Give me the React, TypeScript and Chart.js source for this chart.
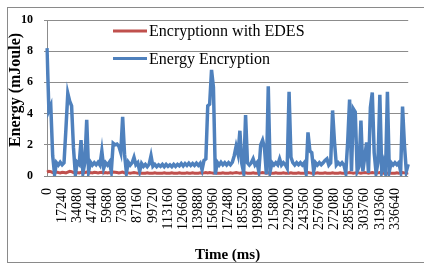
import React, { useEffect, useRef } from "react";
import { Chart, registerables } from "chart.js";

Chart.register(...registerables);

const seriesNames = ["Encryptionn with EDES", "Energy Encryption"];

const tickLabels = [
  "0", "17240", "34080", "47440", "59680", "73080", "87160", "99720",
  "113160", "126600", "139880", "156960", "172480", "185520", "199880", "215800",
  "229200", "243560", "257600", "272080", "285560", "303760", "319360", "336640",
];

const edesValues = [
  0.25, 0.3, 0.28, 0.22, 0.2, 0.25, 0.22, 0.2, 0.24, 0.22, 0.2, 0.25, 0.3, 0.28, 0.22, 0.2,
  0.22, 0.2, 0.24, 0.2, 0.22, 0.25, 0.2, 0.22, 0.2, 0.24, 0.22, 0.2, 0.22, 0.24, 0.2, 0.22,
  0.2, 0.22, 0.2, 0.25, 0.24, 0.22, 0.2, 0.22, 0.25, 0.2, 0.22, 0.2, 0.18, 0.2, 0.22, 0.2,
  0.18, 0.2, 0.18, 0.17, 0.18, 0.2, 0.18, 0.17, 0.18, 0.2, 0.18, 0.17, 0.18, 0.18, 0.2, 0.18,
  0.17, 0.18, 0.2, 0.18, 0.17, 0.18, 0.2, 0.18, 0.18, 0.17, 0.2, 0.18, 0.18, 0.2, 0.18, 0.17,
  0.18, 0.2, 0.18, 0.2, 0.22, 0.2, 0.22, 0.2, 0.18, 0.2, 0.18, 0.17, 0.18, 0.2, 0.18, 0.17,
  0.18, 0.2, 0.18, 0.2, 0.22, 0.2, 0.18, 0.2, 0.18, 0.2, 0.18, 0.17, 0.18, 0.2, 0.18, 0.17,
  0.18, 0.2, 0.22, 0.2, 0.18, 0.2, 0.18, 0.17, 0.18, 0.2, 0.18, 0.17, 0.18, 0.2, 0.18, 0.17,
  0.18, 0.2, 0.18, 0.17, 0.18, 0.2, 0.18, 0.17, 0.18, 0.2, 0.22, 0.2, 0.18, 0.17, 0.18, 0.2,
  0.18, 0.17, 0.18, 0.2, 0.18, 0.17, 0.18, 0.2, 0.18, 0.17, 0.18, 0.2, 0.18, 0.17, 0.18, 0.2,
  0.22, 0.2, 0.18, 0.2, 0.22, 0.2, 0.18, 0.2, 0.22, 0.2, 0.18, 0.2, 0.22, 0.2, 0.18, 0.2,
  0.22, 0.2, 0.18, 0.2, 0.18, 0.2, 0.18, 0.17, 0.18, 0.2, 0.18, 0.2, 0.22, 0.2, 0.18, 0.2,
];

const energyValues = [
  8.2, 4.2, 4.5, 1.3, 0.1, 0.85, 0.7, 0.88, 0.72, 0.85, 3.0, 5.3, 4.8, 4.5, 1.8, 0.1,
  0.88, 0.75, 2.3, 0.2, 0.85, 3.6, 0.3, 0.88, 0.7, 0.85, 0.72, 0.88, 0.7, 1.6, 0.5, 0.85,
  0.7, 0.88, 0.3, 2.1, 2.0, 2.05, 1.9, 1.5, 3.8, 1.4, 0.2, 0.88, 0.7, 0.85, 1.2, 0.72,
  0.85, 0.3, 0.8, 0.62, 0.75, 0.6, 0.75, 1.3, 0.62, 0.75, 0.6, 0.72, 0.62, 0.75, 0.6, 0.75,
  0.62, 0.72, 0.6, 0.75, 0.62, 0.75, 0.65, 0.8, 0.65, 0.8, 0.68, 0.82, 0.68, 0.8, 0.68, 0.82,
  0.68, 0.82, 0.4, 1.0, 1.1, 4.5, 4.6, 6.8, 5.7, 0.1, 0.88, 0.7, 0.88, 0.72, 0.85, 0.7,
  0.85, 0.72, 0.88, 1.3, 1.9, 1.4, 2.9, 0.8, 0.2, 3.9, 0.85, 0.7, 0.85, 1.1, 0.7, 0.85,
  0.3, 2.0, 2.3, 1.8, 0.1, 5.75, 0.3, 0.85, 0.7, 0.85, 0.72, 1.1, 0.7, 0.85, 0.72, 0.5,
  5.4, 1.2, 0.85, 0.7, 0.85, 0.72, 0.85, 0.7, 0.85, 0.2, 2.8, 1.6, 1.5, 0.3, 0.85, 0.7,
  0.85, 0.72, 0.85, 1.0, 1.1, 0.7, 0.85, 4.2, 2.2, 0.7, 0.85, 0.72, 0.85, 0.7, 0.2, 2.2,
  4.9, 0.3, 4.3, 4.1, 0.3, 0.6, 3.55, 0.3, 1.2, 2.15, 0.2, 4.4, 5.35, 1.5, 0.2, 0.85,
  5.2, 0.3, 0.85, 0.2, 5.4, 0.3, 0.85, 0.7, 0.85, 0.72, 0.85, 0.3, 4.45, 2.0, 0.3, 0.75,
];

const LABEL_EVERY = 8;
const RED = "#C0504D";
const BLUE = "#4F81BD";
const GRID = "#8c8c8c";
const SERIF = "'Liberation Serif', 'Times New Roman', serif";

const framePlugin = {
  id: "frame",
  afterDraw(chart: any) {
    const ctx = chart.ctx;
    ctx.save();
    ctx.strokeStyle = "#8a8a8a";
    ctx.lineWidth = 1;
    ctx.strokeRect(7.5, 7.5, 420, 255);
    // y axis title
    ctx.translate(16, 90);
    ctx.rotate(-Math.PI / 2);
    ctx.fillStyle = "#000";
    ctx.font = `bold 16px ${SERIF}`;
    ctx.textAlign = "center";
    ctx.textBaseline = "middle";
    ctx.fillText("Energy (mJoule)", 0, 0);
    ctx.restore();
  },
};

const legendPlugin = {
  id: "insideLegend",
  afterDraw(chart: any) {
    const ctx = chart.ctx;
    const rows = [31, 58.5];
    ctx.save();
    chart.data.datasets.forEach((ds: any, i: number) => {
      const y = rows[i];
      ctx.strokeStyle = ds.borderColor;
      ctx.lineWidth = 3;
      ctx.beginPath();
      ctx.moveTo(113, y);
      ctx.lineTo(147, y);
      ctx.stroke();
      ctx.fillStyle = "#000";
      ctx.font = `16px ${SERIF}`;
      ctx.textAlign = "left";
      ctx.textBaseline = "middle";
      ctx.fillText(ds.label, 149, y + 1);
    });
    ctx.restore();
  },
};

export default function App() {
  const ref = useRef<HTMLCanvasElement | null>(null);

  useEffect(() => {
    if (!ref.current) return;
    const labels = energyValues.map((_, i) => String(i));
    const chart = new Chart(ref.current, {
      type: "line",
      data: {
        labels,
        datasets: [
          {
            label: seriesNames[0],
            data: edesValues,
            borderColor: RED,
            backgroundColor: RED,
            borderWidth: 3,
            pointRadius: 0,
            tension: 0,
            order: 1,
          },
          {
            label: seriesNames[1],
            data: energyValues,
            borderColor: BLUE,
            backgroundColor: BLUE,
            borderWidth: 3.5,
            pointRadius: 0,
            tension: 0,
            order: 0,
          },
        ],
      },
      options: {
        animation: false,
        responsive: false,
        maintainAspectRatio: false,
        layout: { padding: { left: 0, top: 20, right: 6, bottom: 0 } },
        plugins: {
          legend: { display: false },
          tooltip: { enabled: false },
        },
        scales: {
          x: {
            type: "category",
            offset: false,
            grid: { display: false, drawTicks: false },
            border: { display: false },
            ticks: {
              autoSkip: false,
              maxRotation: 90,
              minRotation: 90,
              padding: 12,
              color: "#000",
              font: { family: SERIF, size: 14 },
              callback: (_v: any, idx: number) =>
                idx % LABEL_EVERY === 0 ? tickLabels[idx / LABEL_EVERY] : null,
            },
            title: {
              display: true,
              text: "Time (ms)",
              color: "#000",
              font: { family: SERIF, size: 15, weight: "bold" },
              padding: 0,
            },
            afterFit: (scale: any) => {
              scale.height = 88;
            },
          },
          y: {
            min: 0,
            max: 10,
            ticks: {
              stepSize: 2,
              padding: 11,
              color: "#000",
              font: { family: SERIF, size: 12, weight: "bold" },
            },
            grid: { color: GRID, tickLength: 3, drawTicks: true },
            border: { display: true, color: GRID },
            afterFit: (scale: any) => {
              scale.width = 47;
            },
          },
        },
      },
      plugins: [framePlugin, legendPlugin],
    });
    return () => chart.destroy();
  }, []);

  return (
    <div style={{ position: "absolute", left: 0, top: 0, width: 424, height: 264, background: "#fff" }}>
      <canvas ref={ref} width={424} height={264} style={{ display: "block" }} />
    </div>
  );
}
